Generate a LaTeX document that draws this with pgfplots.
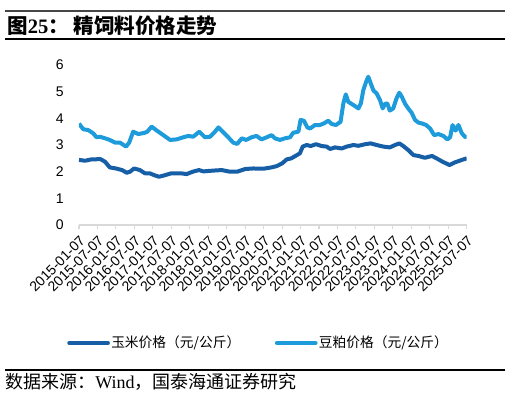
\documentclass[border=0pt]{standalone}
\usepackage{pgfplots}
\pgfplotsset{compat=1.18}
\usepackage{fontspec}
\setmainfont{Liberation Serif}
\newfontfamily\arial{Liberation Sans}
\newfontfamily\cjk{Noto Sans CJK SC}
\definecolor{cornc}{RGB}{22,94,166}
\definecolor{soyc}{RGB}{29,155,219}
\definecolor{axgray}{RGB}{217,217,217}
\definecolor{rulegray}{RGB}{70,70,70}
\begin{document}
\begin{tikzpicture}
\useasboundingbox (0,0) rectangle (384pt,-297pt);
\begin{scope}[x=0.75pt,y=-0.75pt]
\draw[rulegray,line width=1.8pt] (5,11) -- (505,11);
\draw[black,line width=0.8pt] (5,39) -- (505,39);
\draw[black,line width=0.8pt] (5,370) -- (505,370);
\node[anchor=base west,inner sep=0pt] at (7,33) {\fontsize{15.4}{17}\selectfont\bfseries{\cjk 图}25{\cjk ：\ 精饲料价格走势}};
\node[anchor=base west,inner sep=0pt] at (5,388) {\fontsize{13.5}{15}\selectfont{\cjk 数据来源：}Wind{\cjk ，国泰海通证券研究}};
\end{scope}
\begin{axis}[
  at={(59.25pt,-168.75pt)}, anchor=south west,
  scale only axis, width=290.8pt, height=120pt,
  xmin=0, xmax=126, ymin=0, ymax=6,
  axis x line*=bottom, axis y line*=left,
  y axis line style={draw=none},
  x axis line style={axgray, line width=1.2pt},
  xtick={0,6,...,126},
  xticklabels={2015-01-07,2015-07-07,2016-01-07,2016-07-07,2017-01-07,2017-07-07,2018-01-07,2018-07-07,2019-01-07,2019-07-07,2020-01-07,2020-07-07,2021-01-07,2021-07-07,2022-01-07,2022-07-07,2023-01-07,2023-07-07,2024-01-07,2024-07-07,2025-01-07,2025-07-07},
  ytick={0,1,...,6},
  xtick style={axgray, line width=0.8pt},
  ytick style={draw=none},
  tick align=outside, major tick length=3pt,
  xticklabel style={font=\arial\fontsize{10.5}{12}\selectfont, rotate=45, anchor=north east, inner sep=1pt, xshift=-2pt, yshift=-2pt},
  yticklabel style={font=\arial\fontsize{10.5}{12}\selectfont, anchor=east, xshift=-5pt},
  /pgf/number format/assume math mode=true,
  legend columns=2,
  legend style={draw=none, fill=none, at={(0.464,-0.7375)}, anchor=center, font=\cjk\fontsize{10.3}{12}\selectfont, /tikz/every even column/.append style={column sep=24pt}, /tikz/every odd column/.append style={column sep=-1pt}},
  legend image code/.code={\draw[#1, line width=3pt, line cap=round] (0pt,0pt) -- (29pt,0pt);},
]
\addplot[cornc, line width=3pt, line join=round] coordinates {
(0,2.44) (2,2.41) (4,2.46) (7,2.47) (8.5,2.37) (10,2.16) (12,2.12) (14,2.06) (15.5,1.96) (16.6,2.0) (17.9,2.12) (19.8,2.06) (21.4,1.94) (23,1.94) (24.4,1.87) (26,1.81) (28,1.87) (30,1.94) (33,1.94) (35,1.91) (37,2.0) (39,2.06) (40.4,2.01) (43.6,2.04) (46.4,2.06) (49,2.0) (51.4,2.0) (54,2.1) (56.6,2.12) (59.9,2.11) (62.6,2.16) (64.3,2.21) (66,2.31) (67.5,2.46) (69,2.5) (70.8,2.62) (71.8,2.69) (72.7,2.94) (74,3.0) (75.3,2.96) (77,3.03) (78.9,2.96) (80.5,2.94) (81.6,2.85) (83.2,2.91) (85.4,2.87) (87,2.94) (89.2,3.0) (90.8,2.97) (93,3.03) (94.8,3.06) (96.7,3.0) (98.9,2.94) (101,2.91) (102.7,3.0) (104.1,3.06) (105.4,2.96) (107,2.81) (108.7,2.62) (110.3,2.59) (112.4,2.52) (114.7,2.59) (116.2,2.5) (118.2,2.37) (120.4,2.25) (122.2,2.35) (124.4,2.44) (126,2.5)
};
\addlegendentry{玉米价格（元/公斤）}
\addplot[soyc, line width=3pt, line join=round] coordinates {
(0,3.8) (1.4,3.59) (3,3.56) (4.6,3.44) (5.7,3.29) (6.8,3.31) (8.5,3.25) (10,3.19) (11.7,3.09) (13.3,3.09) (15.3,2.94) (16.3,3.09) (17.6,3.5) (19.3,3.41) (21.4,3.46) (22.2,3.5) (23.6,3.69) (25.3,3.54) (27.4,3.37) (29.6,3.19) (31.7,3.21) (33.9,3.29) (35.5,3.34) (37.1,3.31) (39.1,3.5) (40.9,3.29) (42.6,3.31) (44.2,3.5) (45.3,3.66) (46.7,3.5) (48.5,3.29) (50.1,3.09) (51.4,3.04) (52.9,3.25) (54.3,3.19) (56.1,3.29) (57.7,3.34) (59.3,3.21) (61,3.29) (62.6,3.37) (63.7,3.25) (65.3,3.19) (66.9,3.25) (68.6,3.29) (69.6,3.46) (71.3,3.5) (72,3.94) (73.1,3.91) (74.2,3.66) (75.1,3.62) (76.7,3.75) (78.3,3.75) (79.6,3.81) (81,3.91) (82.1,3.79) (83.5,3.75) (85,3.87) (85.9,4.56) (86.7,4.9) (87.5,4.62) (88.6,4.54) (89.7,4.46) (90.8,4.37) (91.6,4.56) (92.4,5.06) (93.3,5.37) (94,5.56) (94.8,5.31) (95.7,5.04) (96.7,4.94) (97.8,4.69) (98.7,4.37) (99.4,4.54) (100.2,4.56) (101,4.29) (102.1,4.37) (103.2,4.75) (104.1,4.96) (104.9,4.81) (106,4.54) (107,4.37) (108.1,4.21) (109.2,3.94) (110.3,3.84) (111.4,3.81) (112.8,3.75) (114.1,3.62) (115.4,3.37) (116.8,3.41) (118.4,3.34) (119.7,3.21) (120.6,3.29) (121.4,3.75) (122.4,3.54) (123.3,3.75) (124.4,3.44) (125.4,3.31) (126,3.29)
};
\addlegendentry{豆粕价格（元/公斤）}
\end{axis}
\end{tikzpicture}
\end{document}
